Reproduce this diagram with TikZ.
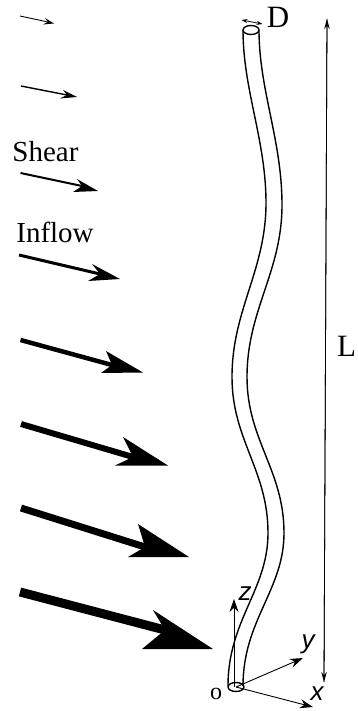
\documentclass[tikz,border=0pt]{standalone}
\usepackage{fontspec}
\setmainfont{Liberation Serif}
\newfontfamily\axisfont{Liberation Sans}
\usetikzlibrary{arrows.meta,shapes.geometric}
\tikzset{
  x=1pt,y=-1pt,
  tube/.style={line width=1.4pt,black},
  tubecap/.style={tube,fill=white},
  lab/.style={inner sep=0pt,font=\fontsize{29}{30}\selectfont},
  biglab/.style={inner sep=0pt,font=\fontsize{31}{32}\selectfont},
  axlab/.style={inner sep=0pt,font=\fontsize{26}{27}\selectfont\axisfont\itshape},
  axisline/.style={line width=0.9pt,-{Stealth[length=13pt,width=9pt]}},
  dimline/.style={line width=0.8pt,-{Stealth[length=10pt,width=5.5pt]}},
  dimb/.style={line width=0.8pt,{Stealth[length=6pt,width=4pt]}-{Stealth[length=6pt,width=4pt]}},
  headfill/.style={fill=black,draw=none},
}
\begin{document}
\begin{tikzpicture}
\useasboundingbox (0,0) rectangle (358,711);
% inflow arrows: start, tip, upper barb, notch, lower barb, shaft width
\foreach \i/\sx/\sy/\tx/\ty/\ux/\uy/\nx/\ny/\lx/\ly/\w in {
 1/20/16/54/23.5/45/18/48/22/43/24.5/0.9,
 2/21/86/77/97/63/90/67/95/60/98.5/1.4,
 3/20.5/173/98/191/77/179/82/186/73/192/2,
 4/19/255/120/279/92/264/100/274/88/281/3,
 5/20.5/340/143/372.5/106/351/112/365/101/373/4.5,
 6/21/424/168/465.5/123/437/133/457/115/465.5/6,
 7/21/508/189/557/138/524/145/547/128/557/7,
 8/20/592/213/649/153/610/165/630/142/649/9}{
  \coordinate (s\i) at (\sx,\sy);
  \coordinate (t\i) at (\tx,\ty);
  \coordinate (u\i) at (\ux,\uy);
  \coordinate (n\i) at (\nx,\ny);
  \coordinate (l\i) at (\lx,\ly);
  \draw[line width=\w pt] (s\i) -- (n\i);
  \fill[headfill] (t\i) -- (u\i) -- (n\i) -- (l\i) -- cycle;
}
% tube
\draw[tube] (243,30) .. controls (243,90) and (266,140) .. (266,203)
  .. controls (266,270) and (232,310) .. (232,377)
  .. controls (232,440) and (268,470) .. (268,533)
  .. controls (268,590) and (228,620) .. (228,686);
\draw[tube] (259,30) .. controls (259,90) and (282,140) .. (282,205)
  .. controls (282,272) and (247,310) .. (247,377)
  .. controls (247,440) and (284,470) .. (284,533)
  .. controls (284,590) and (243,620) .. (243,686);
\node[tubecap,draw,ellipse,minimum width=16pt,minimum height=9pt,inner sep=0pt] (top) at (251,30) {};
\node[tube,draw,ellipse,minimum width=16pt,minimum height=9pt,inner sep=0pt] (bot) at (236,687) {};
% axes
\coordinate (O) at (236,687);
\coordinate (zt) at (234,599);
\coordinate (zb) at (234,687);
\coordinate (yt) at (303,658);
\coordinate (xt) at (313,707);
\draw[axisline] (zb) -- (zt);
\draw[axisline] (O) -- (yt);
\draw[axisline] (O) -- (xt);
\node[axlab] (zl) at (245,593.5) {z};
\node[axlab] (yl) at (308,644) {y};
\node[axlab] (xl) at (317,693.5) {x};
\node[inner sep=0pt,font=\fontsize{24}{25}\selectfont] (ol) at (216,694) {o};
% dimensions
\coordinate (La) at (327,19);
\coordinate (Lb) at (324,682);
\draw[dimline] (Lb) -- (La);
\draw[dimline] (La) -- (Lb);
\coordinate (Da) at (241.5,20);
\coordinate (Db) at (262.5,24);
\draw[dimb] (Da) -- (Db);
\node[biglab] (D) at (278,17) {D};
\node[biglab] (L) at (346.5,346) {L};
\node[lab] (shear) at (45.5,152) {Shear};
\node[lab] (inflow) at (55,232.5) {Inflow};
\end{tikzpicture}
\end{document}
